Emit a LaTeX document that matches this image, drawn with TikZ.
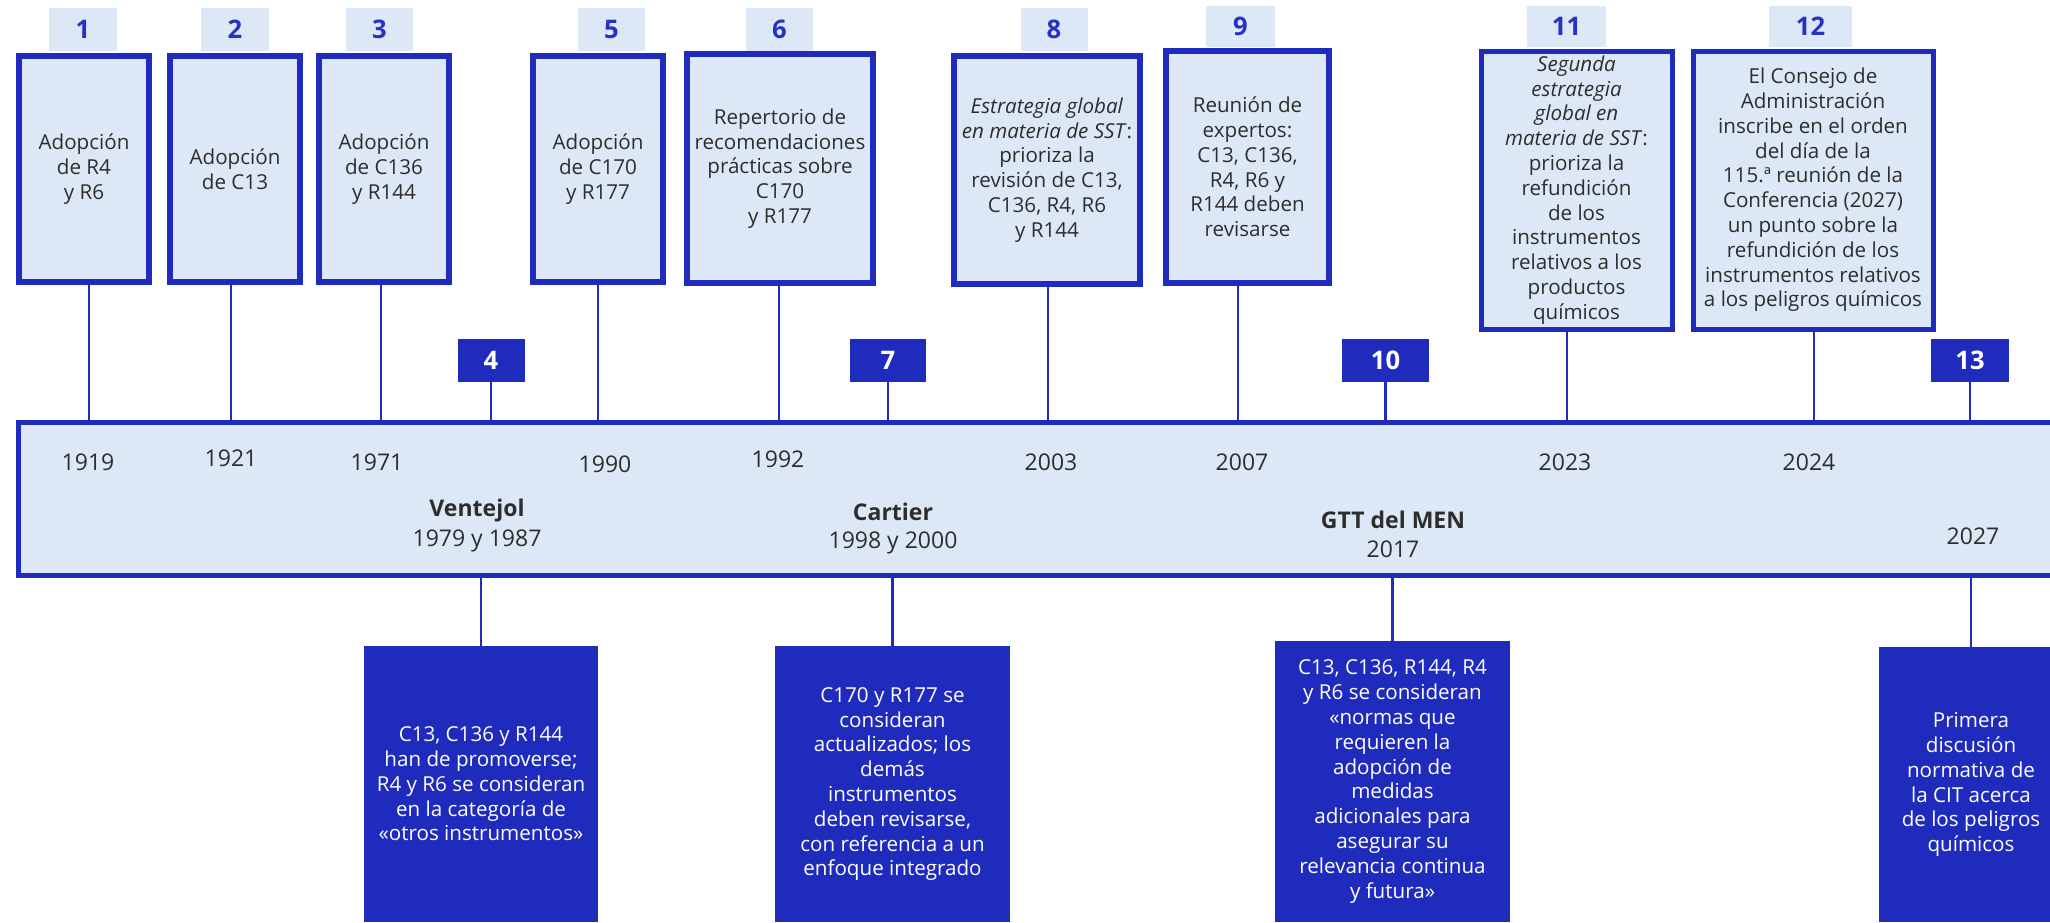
\documentclass[tikz,border=0pt]{standalone}
\usepackage{fontspec}
\setmainfont{Open Sans}
\definecolor{cblue}{RGB}{31,43,189}
\definecolor{cnum}{RGB}{36,50,198}
\definecolor{clight}{RGB}{221,232,246}
\definecolor{ctext}{RGB}{45,45,45}
\newcommand\bxf{\fontsize{10.3}{12.4}\selectfont}
\newcommand\yrf{\fontsize{11.5}{14}\selectfont}
\newcommand\nbf{\fontsize{12.8}{15}\selectfont\bfseries}
\tikzset{
  lbox/.style={draw=cblue, line width=2.8pt, fill=clight, text=ctext, align=center, font=\bxf, inner sep=0pt},
  dbox/.style={fill=cblue, text=white, align=center, font=\bxf, inner sep=0pt},
  ltab/.style={fill=clight, text=cnum, font=\nbf, inner sep=0pt, minimum height=21.5pt},
  dtab/.style={fill=cblue, text=white, font=\nbf, inner sep=0pt, minimum height=21.5pt},
  stem/.style={draw=cblue, line width=1.3pt},
  yr/.style={text=ctext, font=\yrf, inner sep=0pt},
  nm/.style={text=ctext, font=\yrf\bfseries, inner sep=0pt}
}
\begin{document}
\begin{tikzpicture}[x=0.5pt, y=-0.5pt]
\useasboundingbox (0,0) rectangle (2050,922);
\clip (0,0) rectangle (2050,922);
\fill[white] (0,0) rectangle (2050,922);

% timeline bar
\node[draw=cblue, line width=2.5pt, fill=clight, minimum width=1039.5pt, minimum height=76.5pt, inner sep=0pt] (bar) at (1058,499) {};

% stem anchor coordinates
\coordinate (s1) at (89,0);
\coordinate (s2) at (231,0);
\coordinate (s3) at (381,0);
\coordinate (s5) at (598,0);
\coordinate (s6) at (779,0);
\coordinate (s8) at (1048,0);
\coordinate (s9) at (1238,0);
\coordinate (s11) at (1567,0);
\coordinate (s12) at (1814,0);

% upper light boxes
\node[lbox, minimum width=65pt, minimum height=113pt] (b1) at (84,169) {Adopción\\de R4\\y R6};
\node[lbox, minimum width=65pt, minimum height=113pt] (b2) at (235,169) {Adopción\\de C13};
\node[lbox, minimum width=65pt, minimum height=113pt] (b3) at (384,169) {Adopción\\de C136\\y R144};
\node[lbox, minimum width=65pt, minimum height=113pt] (b5) at (598,169) {Adopción\\de C170\\y R177};
\node[lbox, minimum width=93pt, minimum height=114.5pt] (b6) at (780,168.5) {Repertorio de\\recomendaciones\\prácticas sobre\\C170\\y R177};
\node[lbox, minimum width=93pt, minimum height=114pt] (b8) at (1047,170) {\textit{Estrategia global}\\\textit{en materia de SST}:\\prioriza la\\revisión de C13,\\C136, R4, R6\\y R144};
\node[lbox, minimum width=81.5pt, minimum height=116pt] (b9) at (1247.5,167) {Reunión de\\expertos:\\C13, C136,\\R4, R6 y\\R144 deben\\revisarse};
\node[lbox, line width=2.5pt, minimum width=95.5pt, minimum height=139pt] (b11) at (1576.5,190) {\textit{Segunda}\\\textit{estrategia}\\\textit{global en}\\\textit{materia de SST}:\\prioriza la\\refundición\\de los\\instrumentos\\relativos a los\\productos\\químicos};
\node[lbox, line width=2.5pt, minimum width=120pt, minimum height=139pt] (b12) at (1813,190) {El Consejo de\\Administración\\inscribe en el orden\\del día de la\\115.ª reunión de la\\Conferencia (2027)\\un punto sobre la\\refundición de los\\instrumentos relativos\\a los peligros químicos};

% light number tabs
\node[ltab, minimum width=34pt] (t1) at (83,29.5) {1};
\node[ltab, minimum width=34pt] (t2) at (235,29.5) {2};
\node[ltab, minimum width=33.5pt] (t3) at (379.5,29.5) {3};
\node[ltab, minimum width=33.5pt] (t5) at (611.5,29.5) {5};
\node[ltab, minimum width=33.5pt] (t6) at (779.5,29.5) {6};
\node[ltab, minimum width=33.5pt] (t8) at (1054,29.5) {8};
\node[ltab, minimum width=34.5pt, minimum height=20.5pt] (t9) at (1240.5,26.5) {9};
\node[ltab, minimum width=39.5pt, minimum height=20.5pt] (t11) at (1566.5,26.5) {11};
\node[ltab, minimum width=41.5pt, minimum height=20.5pt] (t12) at (1810.5,26.5) {12};

% stems from upper boxes to the bar
\foreach \b/\s in {b1/s1,b2/s2,b3/s3,b5/s5,b6/s6,b8/s8,b9/s9,b11/s11,b12/s12}
  \draw[stem] (\b.south -| \s) -- (bar.north -| \s);

% dark number tabs
\node[dtab, minimum width=33.5pt] (t4) at (491,360.5) {4};
\node[dtab, minimum width=38pt] (t7) at (888,360.5) {7};
\node[dtab, minimum width=43.5pt] (t10) at (1385.5,360.5) {10};
\node[dtab, minimum width=39pt] (t13) at (1970,360.5) {13};
\foreach \t in {t4,t7,t10,t13}
  \draw[stem] (\t.south) -- (\t.south |- bar.north);

% years in the bar
\node[yr] (y1919) at (88,462) {1919};
\node[yr] (y1921) at (231,458) {1921};
\node[yr] (y1971) at (377,462) {1971};
\node[yr] (y1990) at (605,464) {1990};
\node[yr] (y1992) at (778,459) {1992};
\node[yr] (y2003) at (1051,462) {2003};
\node[yr] (y2007) at (1242,462) {2007};
\node[yr] (y2023) at (1565,462) {2023};
\node[yr] (y2024) at (1809,462) {2024};
\node[nm] (nV) at (477,511) {Ventejol};
\node[yr] (yV) at (477,541) {1979 y 1987};
\node[nm] (nC) at (893,512) {Cartier};
\node[yr] (yC) at (893,543) {1998 y 2000};
\node[nm] (nG) at (1393,520) {GTT del MEN};
\node[yr] (yG) at (1393,549) {2017};
\node[yr] (y2027) at (1973,536) {2027};

% lower dark boxes
\node[dbox, minimum width=117pt, minimum height=138pt] (dA) at (481,784) {C13, C136 y R144\\han de promoverse;\\R4 y R6 se consideran\\en la categoría de\\«otros instrumentos»};
\node[dbox, minimum width=117.5pt, minimum height=138pt] (dB) at (892.5,784) {C170 y R177 se\\consideran\\actualizados; los\\demás\\instrumentos\\deben revisarse,\\con referencia a un\\enfoque integrado};
\node[dbox, minimum width=117.5pt, minimum height=140.5pt] (dC) at (1392.5,781.5) {C13, C136, R144, R4\\y R6 se consideran\\«normas que\\requieren la\\adopción de\\medidas\\adicionales para\\asegurar su\\relevancia continua\\y futura»};
\node[dbox, minimum width=92pt, minimum height=137.5pt] (dD) at (1971,784.5) {Primera\\discusión\\normativa de\\la CIT acerca\\de los peligros\\químicos};
\foreach \d in {dA,dB,dC,dD}
  \draw[stem] (\d.north) -- (\d.north |- bar.south);
\end{tikzpicture}
\end{document}
